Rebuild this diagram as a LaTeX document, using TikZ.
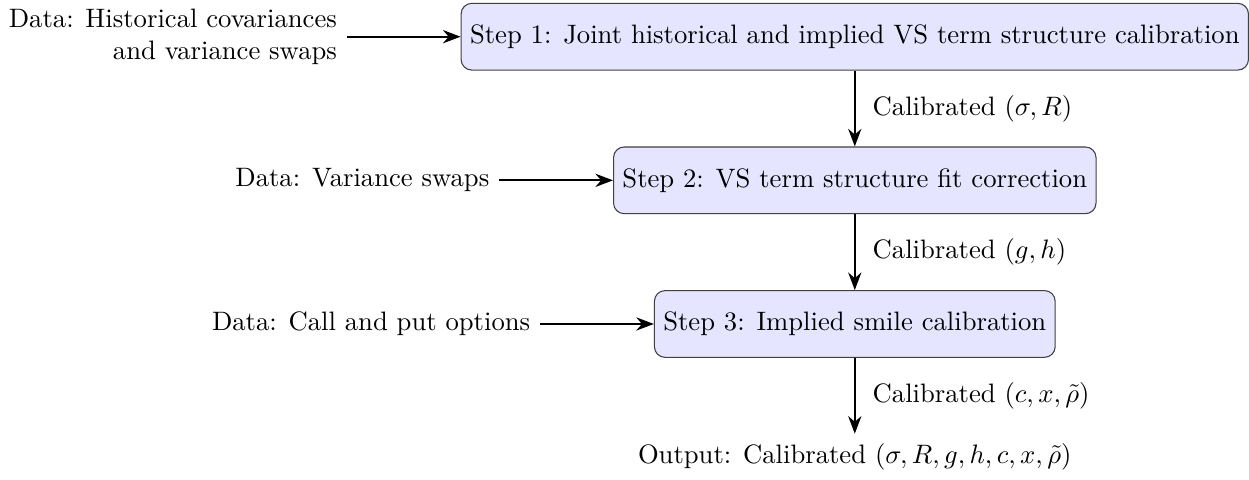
\documentclass[tikz,border=0pt]{standalone}
\usepackage{amsmath, amssymb}
\usepackage{tikz}
\usetikzlibrary{arrows.meta, positioning}

\begin{document}
\begin{tikzpicture}[node distance=1cm and 1.5cm, thick, -{Stealth}]
    \tikzset{stepbox/.style={draw=black!75, thin, fill=blue!10, rounded corners, minimum height=0.88cm}}
    \node (S1) [stepbox] {Step 1: Joint historical and implied VS term structure calibration};
    \node (S2) [stepbox, below=of S1] {Step 2: VS term structure fit correction};
    \node (S3) [stepbox, below=of S2] {Step 3: Implied smile calibration};
    \node (Out) [below=of S3] {Output: Calibrated $(\sigma, R, g, h, c, x, \tilde{\rho})$};
    \node (D1) [left=of S1, align=right] {Data: Historical covariances\\and variance swaps};
    \node (D2) [left=of S2] {Data: Variance swaps};
    \node (D3) [left=of S3] {Data: Call and put options};
    \draw (D1) to (S1);
    \draw (D2) to (S2);
    \draw (D3) to (S3);
    \draw (S1) to node [right=3pt] {Calibrated $(\sigma, R)$} (S2);
    \draw (S2) to node [right=3pt] {Calibrated $(g, h)$} (S3);
    \draw (S3) to node [right=3pt] {Calibrated $(c, x, \tilde{\rho})$} (Out);
  \end{tikzpicture}
\end{document}
